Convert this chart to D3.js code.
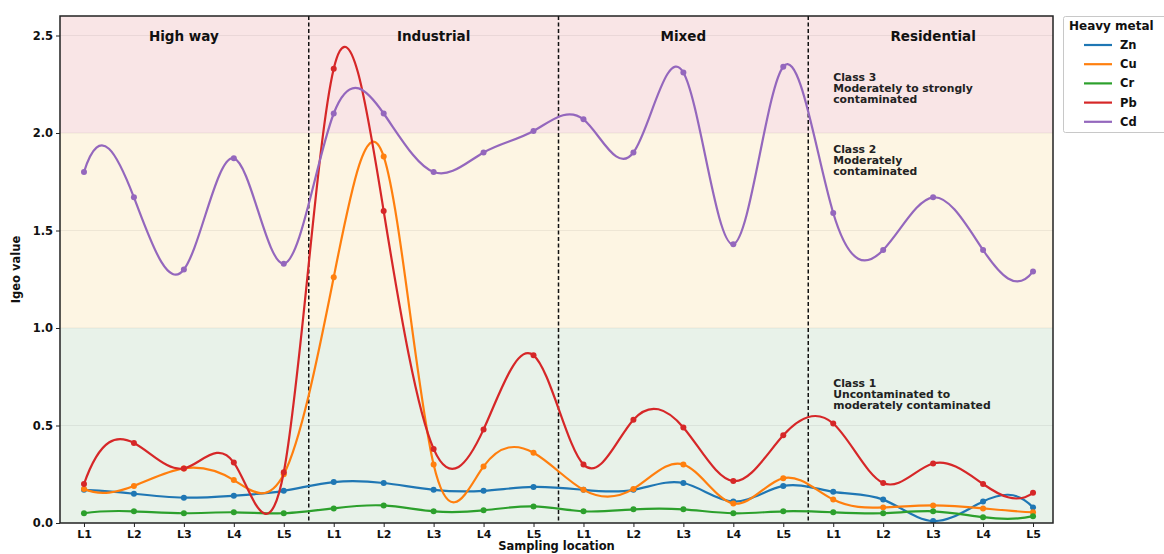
<!DOCTYPE html>
<html>
<head>
<meta charset="utf-8">
<script src="https://cdn.jsdelivr.net/npm/d3@7/dist/d3.min.js"></script>
<style>
  html, body { margin: 0; padding: 0; background: #fff; }
  svg { display: block; font-family: "DejaVu Sans", sans-serif; }
</style>
</head>
<body>
<svg id="chart" width="1164" height="554"></svg>
<script>
// Land-use sites and sampling locations within each site
const sites = ["High way", "Industrial", "Mixed", "Residential"];
const locations = ["L1", "L2", "L3", "L4", "L5"];

// Igeo values per metal, 5 locations for each of the 4 sites
const zn = [0.17, 0.15, 0.13, 0.14, 0.165,  0.21, 0.205, 0.17, 0.165, 0.185,  0.17, 0.17, 0.205, 0.11, 0.19,  0.16, 0.12, 0.01, 0.11, 0.08];
const cu = [0.175, 0.19, 0.28, 0.22, 0.25,  1.26, 1.88, 0.30, 0.29, 0.36,  0.17, 0.175, 0.30, 0.10, 0.23,  0.12, 0.08, 0.09, 0.075, 0.055];
const cr = [0.05, 0.06, 0.05, 0.055, 0.05,  0.075, 0.09, 0.06, 0.065, 0.085,  0.06, 0.07, 0.07, 0.05, 0.06,  0.055, 0.05, 0.06, 0.03, 0.035];
const pb = [0.20, 0.41, 0.28, 0.31, 0.26,  2.33, 1.60, 0.38, 0.48, 0.86,  0.30, 0.53, 0.49, 0.215, 0.45,  0.51, 0.205, 0.305, 0.20, 0.155];
const cd = [1.80, 1.67, 1.30, 1.87, 1.33,  2.10, 2.10, 1.80, 1.90, 2.01,  2.07, 1.90, 2.31, 1.43, 2.34,  1.59, 1.40, 1.67, 1.40, 1.29];

const metals = ["Zn", "Cu", "Cr", "Pb", "Cd"];
const metalValues = [zn, cu, cr, pb, cd];
const metalColors = ["#1f77b4", "#ff7f0e", "#2ca02c", "#d62728", "#9467bd"];

// Igeo contamination classes (lower bound, upper bound, label lines)
const classBounds = [[0, 1], [1, 2], [2, 2.6]];
const classFills = ["#e8f2e9", "#fdf5e3", "#f9e5e6"];
const classLabels = [
  ["Class 1", "Uncontaminated to", "moderately contaminated"],
  ["Class 2", "Moderately", "contaminated"],
  ["Class 3", "Moderately to strongly", "contaminated"]
];
const yTicks = [0.0, 0.5, 1.0, 1.5, 2.0, 2.5];

// Cubic spline curve with "not-a-knot" end conditions, drawn as Bezier segments
function NotAKnot(context) { this._context = context; }
NotAKnot.prototype = {
  areaStart() { this._line = 0; },
  areaEnd() { this._line = NaN; },
  lineStart() { this._x = []; this._y = []; },
  point(px, py) { this._x.push(+px); this._y.push(+py); },
  lineEnd() {
    const X = this._x, Y = this._y, n = X.length, c = this._context;
    if (n) {
      this._line ? c.lineTo(X[0], Y[0]) : c.moveTo(X[0], Y[0]);
      if (n < 4) {
        for (let i = 1; i < n; i++) c.lineTo(X[i], Y[i]);
      } else {
        const h = d3.range(n - 1).map(i => X[i + 1] - X[i]);
        const A = d3.range(n).map(() => new Array(n).fill(0));
        const b = new Array(n).fill(0);
        A[0][0] = h[1]; A[0][1] = -(h[0] + h[1]); A[0][2] = h[0];
        const k = n - 1;
        A[k][k - 2] = h[k - 1]; A[k][k - 1] = -(h[k - 2] + h[k - 1]); A[k][k] = h[k - 2];
        for (let i = 1; i < n - 1; i++) {
          A[i][i - 1] = h[i - 1];
          A[i][i] = 2 * (h[i - 1] + h[i]);
          A[i][i + 1] = h[i];
          b[i] = 6 * ((Y[i + 1] - Y[i]) / h[i] - (Y[i] - Y[i - 1]) / h[i - 1]);
        }
        // Gaussian elimination with partial pivoting
        for (let col = 0; col < n; col++) {
          let piv = col;
          for (let r = col + 1; r < n; r++) if (Math.abs(A[r][col]) > Math.abs(A[piv][col])) piv = r;
          [A[col], A[piv]] = [A[piv], A[col]]; [b[col], b[piv]] = [b[piv], b[col]];
          for (let r = col + 1; r < n; r++) {
            const f = A[r][col] / A[col][col];
            if (!f) continue;
            for (let cc = col; cc < n; cc++) A[r][cc] -= f * A[col][cc];
            b[r] -= f * b[col];
          }
        }
        const M = new Array(n).fill(0);
        for (let r = n - 1; r >= 0; r--) {
          let s = b[r];
          for (let cc = r + 1; cc < n; cc++) s -= A[r][cc] * M[cc];
          M[r] = s / A[r][r];
        }
        for (let i = 0; i < n - 1; i++) {
          const hi = h[i], sl = (Y[i + 1] - Y[i]) / hi;
          const d0 = sl - hi * (2 * M[i] + M[i + 1]) / 6;
          const d1 = sl + hi * (M[i] + 2 * M[i + 1]) / 6;
          c.bezierCurveTo(X[i] + hi / 3, Y[i] + d0 * hi / 3,
                          X[i + 1] - hi / 3, Y[i + 1] - d1 * hi / 3,
                          X[i + 1], Y[i + 1]);
        }
      }
    }
    if (this._line || (this._line !== 0 && n === 1)) c.closePath();
    this._line = 1 - this._line;
    this._x = this._y = null;
  }
};
const curveNotAKnot = context => new NotAKnot(context);

const svg = d3.select("#chart");
const m = { left: 60, right: 1053, top: 16, bottom: 523 };
const nPts = sites.length * locations.length;
const idx = d3.range(nPts);

const x = d3.scaleLinear().domain([-0.48, nPts - 1 + 0.4]).range([m.left, m.right]);
const y = d3.scaleLinear().domain([0, 2.6]).range([m.bottom, m.top]);

svg.append("defs").append("clipPath").attr("id", "plotClip")
  .append("rect").attr("x", m.left).attr("y", m.top)
  .attr("width", m.right - m.left).attr("height", m.bottom - m.top);

// Class background bands
svg.append("g").selectAll("rect").data(classBounds).join("rect")
  .attr("x", m.left).attr("width", m.right - m.left)
  .attr("y", d => y(d[1])).attr("height", d => y(d[0]) - y(d[1]))
  .attr("fill", (d, i) => classFills[i]);

// Horizontal grid
svg.append("g").selectAll("line").data(yTicks.slice(1)).join("line")
  .attr("x1", m.left).attr("x2", m.right)
  .attr("y1", d => y(d)).attr("y2", d => y(d))
  .attr("stroke", "#000").attr("stroke-opacity", 0.06).attr("stroke-width", 1);

// Site separators
const seps = d3.range(1, sites.length).map(i => i * locations.length - 0.5);
svg.append("g").selectAll("line").data(seps).join("line")
  .attr("x1", d => x(d)).attr("x2", d => x(d))
  .attr("y1", m.top).attr("y2", m.bottom)
  .attr("stroke", "#111").attr("stroke-width", 1.5)
  .attr("stroke-dasharray", "4,2.5");

// Site titles
svg.append("g").selectAll("text").data(sites).join("text")
  .attr("x", (d, i) => x(i * locations.length + 2)).attr("y", 41)
  .attr("text-anchor", "middle").attr("font-size", 13.5).attr("font-weight", "bold")
  .attr("fill", "#111").text(d => d);

// Class annotations
const classLabelY = [387, 153, 81];
const annot = svg.append("g").attr("font-size", 10.8).attr("font-weight", "bold").attr("fill", "#222");
classLabels.forEach((lines, ci) => {
  lines.forEach((t, li) => {
    annot.append("text").attr("x", x(15)).attr("y", classLabelY[ci] + li * 11.2).text(t);
  });
});

// Smoothed metal series with markers
const line = d3.line().x((d, i) => x(i)).y(d => y(d)).curve(curveNotAKnot);
const series = svg.append("g").attr("clip-path", "url(#plotClip)");
metalValues.forEach((vals, k) => {
  series.append("path").datum(vals)
    .attr("d", line).attr("fill", "none")
    .attr("stroke", metalColors[k]).attr("stroke-width", 2.2);
  series.append("g").selectAll("circle").data(vals).join("circle")
    .attr("cx", (d, i) => x(i)).attr("cy", d => y(d)).attr("r", 3)
    .attr("fill", metalColors[k]);
});

// Axes
const xAxis = d3.axisBottom(x).tickValues(idx)
  .tickFormat(i => locations[i % locations.length]).tickSize(4).tickPadding(3);
const gx = svg.append("g").attr("transform", `translate(0,${m.bottom})`).call(xAxis);
gx.select(".domain").remove();
gx.selectAll("text").attr("font-size", 11).attr("font-weight", "bold").attr("fill", "#111")
  .attr("font-family", "DejaVu Sans");
gx.selectAll("line").attr("stroke", "#222");

const yAxis = d3.axisLeft(y).tickValues(yTicks).tickFormat(d3.format(".1f")).tickSize(4).tickPadding(3);
const gy = svg.append("g").attr("transform", `translate(${m.left},0)`).call(yAxis);
gy.select(".domain").remove();
gy.selectAll("text").attr("font-size", 11.5).attr("font-weight", "bold").attr("fill", "#111")
  .attr("font-family", "DejaVu Sans");
gy.selectAll("line").attr("stroke", "#222");

// Frame
svg.append("rect").attr("x", m.left).attr("y", m.top)
  .attr("width", m.right - m.left).attr("height", m.bottom - m.top)
  .attr("fill", "none").attr("stroke", "#222").attr("stroke-width", 1.5);

// Axis titles
svg.append("text").attr("x", (m.left + m.right) / 2).attr("y", 550)
  .attr("text-anchor", "middle").attr("font-size", 11.5).attr("font-weight", "bold")
  .attr("fill", "#111").text("Sampling location");
svg.append("text").attr("transform", `translate(20,${(m.top + m.bottom) / 2}) rotate(-90)`)
  .attr("text-anchor", "middle").attr("font-size", 11.5).attr("font-weight", "bold")
  .attr("fill", "#111").text("Igeo value");

// Legend
const lg = svg.append("g");
lg.append("rect").attr("x", 1063.5).attr("y", 16.5).attr("width", 110).attr("height", 116)
  .attr("rx", 2).attr("fill", "#fff").attr("stroke", "#c8c8c8").attr("stroke-width", 1);
lg.append("text").attr("x", 1069).attr("y", 30).attr("font-size", 12).attr("font-weight", "bold")
  .attr("fill", "#111").text("Heavy metal");
metals.forEach((name, k) => {
  const ly = 45 + k * 19.2;
  lg.append("line").attr("x1", 1084).attr("x2", 1112).attr("y1", ly).attr("y2", ly)
    .attr("stroke", metalColors[k]).attr("stroke-width", 2.2);
  lg.append("text").attr("x", 1120).attr("y", ly + 4).attr("font-size", 11.5).attr("font-weight", "bold")
    .attr("fill", "#111").text(name);
});
</script>
</body>
</html>
